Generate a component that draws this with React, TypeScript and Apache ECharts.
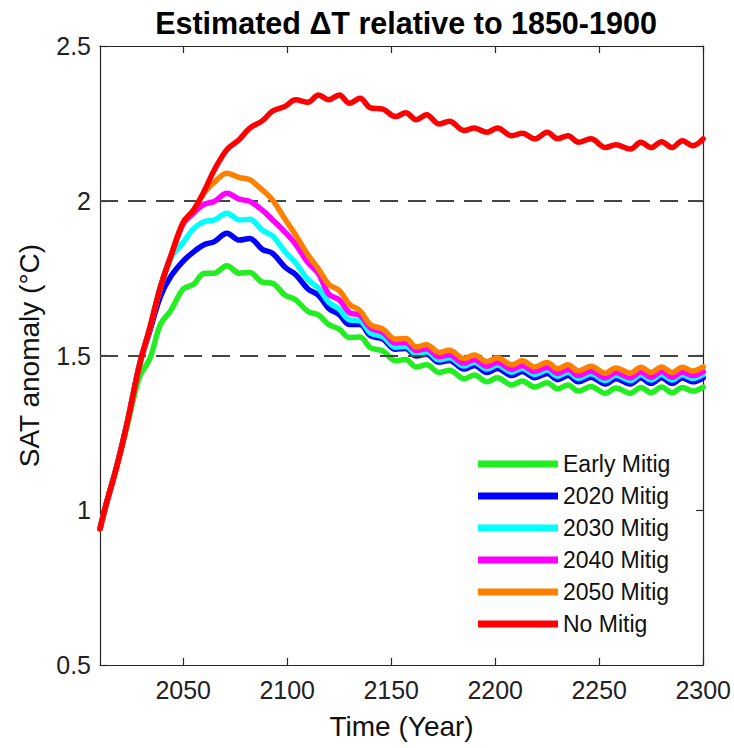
import React, { useEffect, useRef } from "react";
import * as echarts from "echarts";

// Sample years (shared by all scenarios)
const years = [
  2010, 2013, 2018, 2023, 2029, 2034, 2039, 2044, 2050, 2055,
  2060, 2065, 2071, 2077, 2082, 2088, 2093, 2099, 2104, 2110,
  2115, 2120, 2125, 2130, 2135, 2140, 2146, 2152, 2157, 2162,
  2167, 2173, 2178, 2185, 2190, 2196, 2201, 2208, 2213, 2219,
  2225, 2230, 2235, 2240, 2246, 2253, 2258, 2265, 2270, 2275,
  2280, 2285, 2290, 2295, 2300,
];

// SAT anomaly (°C) per scenario
const earlyMitig = [
  0.94, 1.02, 1.14, 1.27, 1.43, 1.49, 1.6, 1.645, 1.715, 1.73,
  1.765, 1.766, 1.79, 1.766, 1.768, 1.737, 1.733, 1.695, 1.68, 1.642,
  1.631, 1.6, 1.585, 1.558, 1.56, 1.525, 1.515, 1.483, 1.487, 1.463,
  1.47, 1.445, 1.452, 1.425, 1.437, 1.415, 1.428, 1.405, 1.418, 1.398,
  1.412, 1.392, 1.405, 1.385, 1.4, 1.378, 1.395, 1.378, 1.397, 1.38,
  1.398, 1.38, 1.397, 1.385, 1.398,
];
const mitig2020 = [
  0.94, 1.02, 1.14, 1.28, 1.47, 1.58, 1.69, 1.755, 1.805, 1.835,
  1.858, 1.868, 1.895, 1.873, 1.878, 1.843, 1.83, 1.785, 1.762, 1.715,
  1.695, 1.652, 1.632, 1.6, 1.6, 1.564, 1.553, 1.52, 1.523, 1.498,
  1.504, 1.478, 1.484, 1.456, 1.468, 1.445, 1.458, 1.435, 1.448, 1.428,
  1.442, 1.422, 1.435, 1.415, 1.43, 1.408, 1.425, 1.408, 1.427, 1.41,
  1.428, 1.41, 1.427, 1.415, 1.428,
];
const mitig2030 = [
  0.94, 1.02, 1.14, 1.28, 1.47, 1.59, 1.72, 1.815, 1.865, 1.91,
  1.932, 1.938, 1.96, 1.938, 1.94, 1.905, 1.886, 1.835, 1.8, 1.745,
  1.718, 1.672, 1.65, 1.615, 1.612, 1.573, 1.561, 1.527, 1.53, 1.505,
  1.512, 1.486, 1.493, 1.466, 1.478, 1.456, 1.469, 1.446, 1.459, 1.439,
  1.453, 1.433, 1.446, 1.426, 1.441, 1.419, 1.436, 1.419, 1.438, 1.421,
  1.439, 1.421, 1.438, 1.426, 1.439,
];
const mitig2040 = [
  0.94, 1.02, 1.14, 1.28, 1.47, 1.59, 1.72, 1.82, 1.925, 1.96,
  1.988, 1.998, 2.024, 2.005, 1.998, 1.97, 1.938, 1.898, 1.86, 1.8,
  1.765, 1.698, 1.68, 1.638, 1.63, 1.589, 1.575, 1.54, 1.542, 1.516,
  1.522, 1.496, 1.502, 1.475, 1.487, 1.465, 1.478, 1.455, 1.468, 1.448,
  1.462, 1.442, 1.455, 1.435, 1.45, 1.428, 1.445, 1.428, 1.447, 1.43,
  1.448, 1.43, 1.447, 1.435, 1.448,
];
const mitig2050 = [
  0.94, 1.02, 1.14, 1.28, 1.47, 1.59, 1.72, 1.82, 1.93, 1.97,
  2.025, 2.06, 2.089, 2.075, 2.068, 2.035, 2.002, 1.94, 1.89, 1.825,
  1.78, 1.73, 1.71, 1.665, 1.645, 1.6, 1.585, 1.553, 1.555, 1.528,
  1.535, 1.51, 1.517, 1.49, 1.502, 1.48, 1.493, 1.47, 1.483, 1.463,
  1.477, 1.457, 1.47, 1.45, 1.465, 1.443, 1.46, 1.443, 1.462, 1.445,
  1.463, 1.445, 1.462, 1.45, 1.463,
];
const noMitig = [
  0.94, 1.02, 1.14, 1.28, 1.47, 1.59, 1.72, 1.82, 1.93, 1.97,
  2.03, 2.1, 2.165, 2.198, 2.235, 2.258, 2.29, 2.305, 2.326, 2.318,
  2.342, 2.326, 2.342, 2.315, 2.331, 2.3, 2.296, 2.272, 2.284, 2.262,
  2.278, 2.248, 2.257, 2.227, 2.235, 2.221, 2.235, 2.21, 2.218, 2.2,
  2.221, 2.201, 2.21, 2.189, 2.2, 2.172, 2.181, 2.167, 2.189, 2.172,
  2.191, 2.172, 2.194, 2.178, 2.2,
];

const seriesNames = ["Early Mitig", "2020 Mitig", "2030 Mitig", "2040 Mitig", "2050 Mitig", "No Mitig"];
const seriesValues = [earlyMitig, mitig2020, mitig2030, mitig2040, mitig2050, noMitig];
const seriesColors = ["#22ee22", "#0000ff", "#00ffff", "#ff00ff", "#ff8000", "#ff0000"];

const xTickYears = [2050, 2100, 2150, 2200, 2250, 2300];
const thresholds = [2, 1.5];

const FONT = "'Liberation Sans', Arial, Helvetica, sans-serif";
const AXIS_COLOR = "#262626";

export default function App() {
  const ref = useRef<HTMLDivElement>(null);

  useEffect(() => {
    if (!ref.current) return;
    const chart = echarts.init(ref.current, undefined, { renderer: "svg" });

    const lineSeries = seriesNames.map((name, k) => ({
      name,
      type: "line",
      data: years.map((y, i) => [y, seriesValues[k][i]]),
      showSymbol: false,
      symbol: "none",
      smooth: 0.35,
      z: 2 + k,
      lineStyle: { width: 5.5, color: seriesColors[k], cap: "round", join: "round" },
      itemStyle: { color: seriesColors[k] },
    }));

    // Dashed reference levels drawn above the curves
    const thresholdSeries = {
      name: "thresholds",
      type: "line",
      data: [],
      z: 20,
      markLine: {
        silent: true,
        symbol: ["none", "none"],
        label: { show: false },
        lineStyle: { type: [18, 10], color: "#444444", width: 2 },
        data: thresholds.map((v) => ({ yAxis: v })),
      },
    };

    const axisLine = { show: true, lineStyle: { color: AXIS_COLOR, width: 1.2 } };
    const tick = { show: true, inside: true, length: 7, lineStyle: { color: AXIS_COLOR, width: 1.2 } };

    chart.setOption({
      animation: false,
      backgroundColor: "#ffffff",
      title: {
        text: "Estimated ΔT relative to 1850-1900",
        left: 401,
        top: 2,
        textAlign: "center",
        textStyle: { fontFamily: FONT, fontSize: 30.5, fontWeight: "bold", color: "#000" },
      },
      grid: { left: 100, right: 29, top: 46, bottom: 83, containLabel: false },
      legend: {
        data: seriesNames,
        orient: "vertical",
        left: 478,
        top: 452,
        padding: 0,
        icon: "rect",
        itemWidth: 80,
        itemHeight: 7,
        itemGap: 8,
        textStyle: { fontFamily: FONT, fontSize: 23, color: "#111", lineHeight: 24 },
      },
      xAxis: [
        {
          type: "value",
          min: 2010,
          max: 2300,
          position: "bottom",
          axisLine,
          axisTick: { ...tick, customValues: xTickYears },
          axisLabel: {
            customValues: xTickYears,
            formatter: (v: number) => String(v),
            fontFamily: FONT,
            fontSize: 25,
            color: "#222",
            margin: 12,
          },
          splitLine: { show: false },
          name: "Time (Year)",
          nameLocation: "middle",
          nameGap: 47,
          nameTextStyle: { fontFamily: FONT, fontSize: 28, color: "#111" },
        },
        {
          type: "value",
          min: 2010,
          max: 2300,
          position: "top",
          axisLine,
          axisTick: { ...tick, customValues: xTickYears },
          axisLabel: { show: false },
          splitLine: { show: false },
        },
      ],
      yAxis: [
        {
          type: "value",
          min: 0.5,
          max: 2.5,
          interval: 0.5,
          position: "left",
          axisLine,
          axisTick: tick,
          axisLabel: { fontFamily: FONT, fontSize: 25, color: "#222", margin: 9 },
          splitLine: { show: false },
          name: "SAT anomaly (°C)",
          nameLocation: "middle",
          nameRotate: 90,
          nameGap: 57,
          nameTextStyle: { fontFamily: FONT, fontSize: 28, color: "#111" },
        },
        {
          type: "value",
          min: 0.5,
          max: 2.5,
          interval: 0.5,
          position: "right",
          axisLine,
          axisTick: tick,
          axisLabel: { show: false },
          splitLine: { show: false },
        },
      ],
      series: [...lineSeries, thresholdSeries],
    });

    return () => chart.dispose();
  }, []);

  return (
    <div
      ref={ref}
      style={{ position: "absolute", left: 0, top: 0, width: 734, height: 748, background: "#fff" }}
    />
  );
}
